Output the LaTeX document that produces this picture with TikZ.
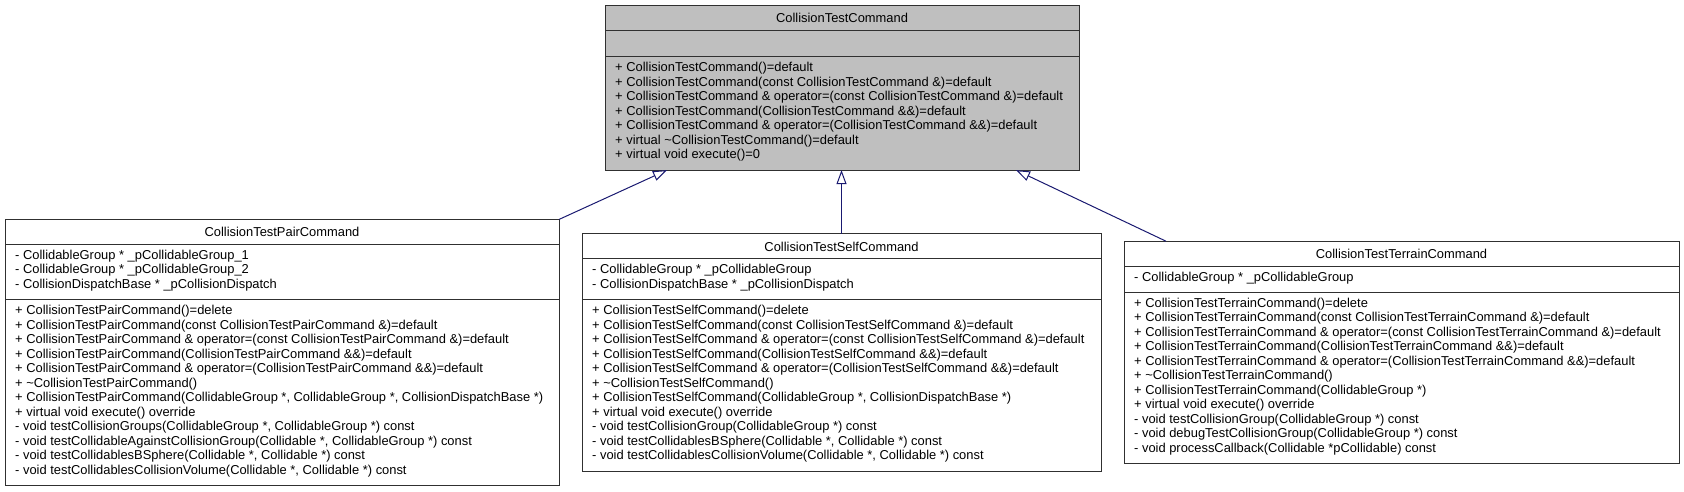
\documentclass[tikz,border=0pt]{standalone}
\usepackage{fontspec}
\setmainfont{Liberation Sans}
\usetikzlibrary{arrows.meta,calc}
\definecolor{edgeblue}{HTML}{191970}
\definecolor{basegray}{HTML}{BFBFBF}
\definecolor{boxline}{HTML}{303030}
\tikzset{
  umlbox/.style={draw=boxline, line width=1pt, rectangle, inner sep=0pt, outer sep=0pt, anchor=north west},
  sepline/.style={draw=boxline, line width=1pt},
  txt/.style={anchor=west, align=left, inner sep=0pt, font=\fontsize{12.9}{14.5}\selectfont},
  ttl/.style={anchor=center, inner sep=0pt, font=\fontsize{12.9}{14.5}\selectfont},
  inherit/.style={draw=edgeblue, line width=1pt, -{Triangle[open,length=14pt,width=10pt,fill=white]}}
}
\begin{document}
\begin{tikzpicture}[x=1pt,y=-1pt]
\useasboundingbox (0,0) rectangle (1684,492);

% ---- base class
\node[umlbox, fill=basegray, minimum width=474pt, minimum height=164.6pt] (base) at (605,5.5) {};
\draw[sepline] ($(base.north west)+(0,25)$) -- ($(base.north east)+(0,25)$);
\draw[sepline] ($(base.north west)+(0,51.3)$) -- ($(base.north east)+(0,51.3)$);
\node[ttl] (baseT) at ($(base.north)+(0,12.5)$) {CollisionTestCommand};
\node[txt] (baseM) at (615,111.8) {+ CollisionTestCommand()=default\\
+ CollisionTestCommand(const CollisionTestCommand \&)=default\\
+ CollisionTestCommand \& operator=(const CollisionTestCommand \&)=default\\
+ CollisionTestCommand(CollisionTestCommand \&\&)=default\\
+ CollisionTestCommand \& operator=(CollisionTestCommand \&\&)=default\\
+ virtual \textasciitilde CollisionTestCommand()=default\\
+ virtual void execute()=0};

% ---- pair
\node[umlbox, fill=white, minimum width=554pt, minimum height=266.1pt] (pair) at (5,219.45) {};
\draw[sepline] ($(pair.north west)+(0,25)$) -- ($(pair.north east)+(0,25)$);
\draw[sepline] ($(pair.north west)+(0,80.3)$) -- ($(pair.north east)+(0,80.3)$);
\node[ttl] (pairT) at ($(pair.north)+(0,12.5)$) {CollisionTestPairCommand};
\node[txt] (pairA) at (15,270.45) {- CollidableGroup * \_pCollidableGroup\_1\\
- CollidableGroup * \_pCollidableGroup\_2\\
- CollisionDispatchBase * \_pCollisionDispatch};
\node[txt] (pairM) at (15,391.0) {+ CollisionTestPairCommand()=delete\\
+ CollisionTestPairCommand(const CollisionTestPairCommand \&)=default\\
+ CollisionTestPairCommand \& operator=(const CollisionTestPairCommand \&)=default\\
+ CollisionTestPairCommand(CollisionTestPairCommand \&\&)=default\\
+ CollisionTestPairCommand \& operator=(CollisionTestPairCommand \&\&)=default\\
+ \textasciitilde CollisionTestPairCommand()\\
+ CollisionTestPairCommand(CollidableGroup *, CollidableGroup *, CollisionDispatchBase *)\\
+ virtual void execute() override\\
- void testCollisionGroups(CollidableGroup *, CollidableGroup *) const\\
- void testCollidableAgainstCollisionGroup(Collidable *, CollidableGroup *) const\\
- void testCollidablesBSphere(Collidable *, Collidable *) const\\
- void testCollidablesCollisionVolume(Collidable *, Collidable *) const};

% ---- self
\node[umlbox, fill=white, minimum width=519pt, minimum height=237.1pt] (self) at (582,233.95) {};
\draw[sepline] ($(self.north west)+(0,25)$) -- ($(self.north east)+(0,25)$);
\draw[sepline] ($(self.north west)+(0,65.8)$) -- ($(self.north east)+(0,65.8)$);
\node[ttl] (selfT) at ($(self.north)+(0,12.5)$) {CollisionTestSelfCommand};
\node[txt] (selfA) at (592,277.7) {- CollidableGroup * \_pCollidableGroup\\
- CollisionDispatchBase * \_pCollisionDispatch};
\node[txt] (selfM) at (592,383.75) {+ CollisionTestSelfCommand()=delete\\
+ CollisionTestSelfCommand(const CollisionTestSelfCommand \&)=default\\
+ CollisionTestSelfCommand \& operator=(const CollisionTestSelfCommand \&)=default\\
+ CollisionTestSelfCommand(CollisionTestSelfCommand \&\&)=default\\
+ CollisionTestSelfCommand \& operator=(CollisionTestSelfCommand \&\&)=default\\
+ \textasciitilde CollisionTestSelfCommand()\\
+ CollisionTestSelfCommand(CollidableGroup *, CollisionDispatchBase *)\\
+ virtual void execute() override\\
- void testCollisionGroup(CollidableGroup *) const\\
- void testCollidablesBSphere(Collidable *, Collidable *) const\\
- void testCollidablesCollisionVolume(Collidable *, Collidable *) const};

% ---- terrain
\node[umlbox, fill=white, minimum width=555pt, minimum height=222.6pt] (terrain) at (1124,241.2) {};
\draw[sepline] ($(terrain.north west)+(0,25)$) -- ($(terrain.north east)+(0,25)$);
\draw[sepline] ($(terrain.north west)+(0,51.3)$) -- ($(terrain.north east)+(0,51.3)$);
\node[ttl] (terrainT) at ($(terrain.north)+(0,12.5)$) {CollisionTestTerrainCommand};
\node[txt] (terrainA) at (1134,277.7) {- CollidableGroup * \_pCollidableGroup};
\node[txt] (terrainM) at (1134,376.5) {+ CollisionTestTerrainCommand()=delete\\
+ CollisionTestTerrainCommand(const CollisionTestTerrainCommand \&)=default\\
+ CollisionTestTerrainCommand \& operator=(const CollisionTestTerrainCommand \&)=default\\
+ CollisionTestTerrainCommand(CollisionTestTerrainCommand \&\&)=default\\
+ CollisionTestTerrainCommand \& operator=(CollisionTestTerrainCommand \&\&)=default\\
+ \textasciitilde CollisionTestTerrainCommand()\\
+ CollisionTestTerrainCommand(CollidableGroup *)\\
+ virtual void execute() override\\
- void testCollisionGroup(CollidableGroup *) const\\
- void debugTestCollisionGroup(CollidableGroup *) const\\
- void processCallback(Collidable *pCollidable) const};

% ---- inheritance connectors
\coordinate (tipL) at ($(base.south)+(-175,0)$);
\coordinate (tipR) at ($(base.south)+(174,0)$);
\coordinate (terrainEnd) at ($(terrain.north west)+(42,0)$);
\draw[inherit] (pair.north east) -- (tipL);
\draw[inherit] (self.north) -- (self.north |- base.south);
\draw[inherit] (terrainEnd) -- (tipR);
\end{tikzpicture}
\end{document}
